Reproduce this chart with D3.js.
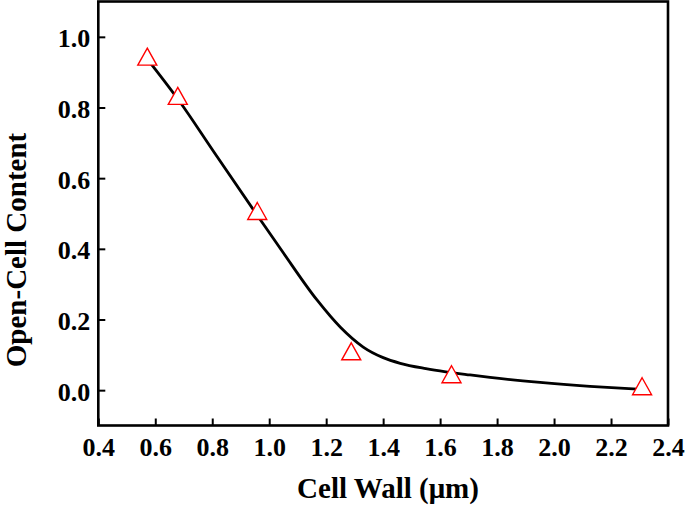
<!DOCTYPE html>
<html lang="en">
<head>
  <meta charset="UTF-8">
  <title>Open-Cell Content vs Cell Wall</title>
  <style>
    body {
      margin: 0;
      background-color: #fff;
    }
    svg text {
      font-family: "Liberation Serif", "Times New Roman", serif;
      font-weight: bold;
      fill: #000;
    }
  </style>
</head>
<body>
  <svg id="chart" width="685" height="510"></svg>
  <script src="https://d3js.org/d3.v7.min.js"></script>
  <script>
    // measured points (triangles)
    const wallX = [0.572, 0.679, 0.958, 1.288, 1.640, 2.309];
    const openY = [0.944, 0.833, 0.507, 0.110, 0.045, 0.011];

    // fitted curve
    const fitX = [0.572, 0.688, 0.80, 0.957, 1.05, 1.167, 1.25, 1.33, 1.40, 1.46, 1.55, 1.62, 1.705, 1.775, 1.951, 2.126, 2.309];
    const fitY = [0.937, 0.814, 0.681, 0.496, 0.388, 0.256, 0.178, 0.122, 0.092, 0.076, 0.061, 0.052, 0.043, 0.036, 0.022, 0.011, 0.002];

    const xTicks = [0.4, 0.6, 0.8, 1.0, 1.2, 1.4, 1.6, 1.8, 2.0, 2.2, 2.4];
    const yTicks = [0.0, 0.2, 0.4, 0.6, 0.8, 1.0];

    const plot = { left: 98.3, right: 668, top: 1.5, bottom: 425.5 };

    const xScale = d3.scaleLinear()
      .domain([0.4, 2.4])
      .range([plot.left, plot.right]);

    const yScale = d3.scaleLinear()
      .domain([-0.1, 1.1])
      .range([plot.bottom, plot.top]);

    const svg = d3.select('#chart');

    // x axis
    const xAxis = svg.append('g')
      .attr('transform', `translate(0, ${plot.bottom})`)
      .call(d3.axisBottom(xScale)
        .tickValues(xTicks)
        .tickFormat(d3.format('.1f'))
        .tickSizeInner(-7)
        .tickSizeOuter(0));
    xAxis.select('.domain').remove();
    xAxis.selectAll('line').attr('stroke', '#000').attr('stroke-width', 2);
    xAxis.selectAll('text')
      .attr('y', 30)
      .attr('dy', 0)
      .attr('font-size', 26);

    // y axis
    const yAxis = svg.append('g')
      .attr('transform', `translate(${plot.left}, 0)`)
      .call(d3.axisLeft(yScale)
        .tickValues(yTicks)
        .tickFormat(d3.format('.1f'))
        .tickSizeInner(-7)
        .tickSizeOuter(0));
    yAxis.select('.domain').remove();
    yAxis.selectAll('line').attr('stroke', '#000').attr('stroke-width', 2);
    yAxis.selectAll('text')
      .attr('x', -8)
      .attr('dy', '0.38em')
      .attr('font-size', 26);

    // fitted line
    const fit = fitX.map((x, i) => ({ x: x, y: fitY[i] }));
    const line = d3.line()
      .x(d => xScale(d.x))
      .y(d => yScale(d.y))
      .curve(d3.curveMonotoneX);

    svg.append('path')
      .datum(fit)
      .attr('fill', 'none')
      .attr('stroke', '#000')
      .attr('stroke-width', 2.8)
      .attr('d', line);

    // triangle markers
    const pts = wallX.map((x, i) => ({ x: x, y: openY[i] }));
    svg.selectAll('.tri')
      .data(pts)
      .enter()
      .append('path')
      .attr('class', 'tri')
      .attr('transform', d => `translate(${xScale(d.x)}, ${yScale(d.y)})`)
      .attr('d', 'M0,-8.5L9.5,8.5L-9.5,8.5Z')
      .attr('fill', '#fff')
      .attr('stroke', '#ff0000')
      .attr('stroke-width', 1.4);

    // frame
    svg.append('rect')
      .attr('x', plot.left)
      .attr('y', plot.top)
      .attr('width', plot.right - plot.left)
      .attr('height', plot.bottom - plot.top)
      .attr('fill', 'none')
      .attr('stroke', '#000')
      .attr('stroke-width', 2.6);

    // axis titles
    svg.append('text')
      .attr('x', 388)
      .attr('y', 498)
      .attr('text-anchor', 'middle')
      .attr('font-size', 29)
      .text('Cell Wall (μm)');

    svg.append('text')
      .attr('transform', 'translate(26, 250) rotate(-90)')
      .attr('text-anchor', 'middle')
      .attr('font-size', 29)
      .text('Open-Cell Content');
  </script>
</body>
</html>
